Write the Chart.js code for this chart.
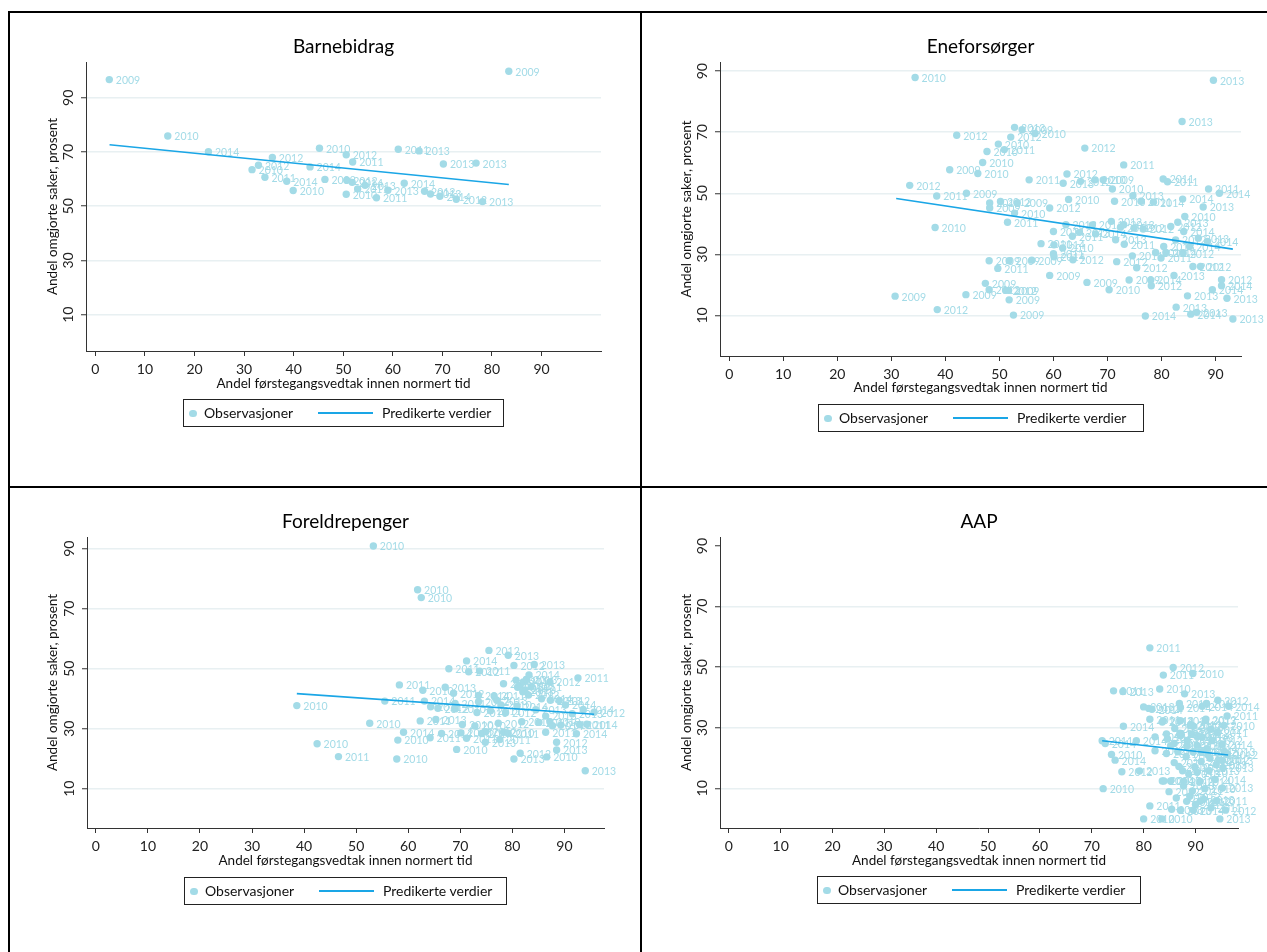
<!DOCTYPE html>
<html>
<head>
<meta charset="utf-8">
<script src="https://cdn.jsdelivr.net/npm/chart.js@4.4.0/dist/chart.umd.min.js"></script>
<style>
body { margin: 0; background: #fff; width: 1267px; height: 952px; position: relative; overflow: hidden; font-family: Lato, sans-serif; }
.ln { position: absolute; background: #000; }
canvas { position: absolute; }
.leg { position: absolute; height: 28px; box-sizing: border-box; border: 1px solid #222; font-size: 14px; color: #111; }
.leg span { position: absolute; }
.leg .dot { left: 5px; top: 9.5px; width: 7.5px; height: 7.5px; border-radius: 50%; background: #a3dbe7; }
.leg .t1 { left: 20px; top: 4px; line-height: 18px; }
.leg .strek { left: 134px; top: 12px; width: 55px; height: 1.6px; background: #1aa6e6; }
.leg .t2 { left: 198px; top: 4px; line-height: 18px; }
</style>
</head>
<body>
<div class="ln" style="left:8px;top:11px;width:1259px;height:2px"></div>
<div class="ln" style="left:8px;top:11px;width:2px;height:941px"></div>
<div class="ln" style="left:640px;top:11px;width:2px;height:941px"></div>
<div class="ln" style="left:8px;top:486px;width:1259px;height:2px"></div>
<canvas id="c1"></canvas>
<canvas id="c2"></canvas>
<canvas id="c3"></canvas>
<canvas id="c4"></canvas>
<script>
const lysbla = '#a3dbe7';
const linjebla = '#1aa6e6';

const xTicks = [0, 10, 20, 30, 40, 50, 60, 70, 80, 90];
const yTicks = [10, 30, 50, 70, 90];

// [andel innen normert tid, andel omgjorte, år]
const barnPunkter = [
  [2.8, 96.7, 2009], [83.4, 99.8, 2009], [14.6, 75.9, 2010], [22.8, 70.1, 2014], [35.7, 68.0, 2012],
  [32.9, 65.1, 2012], [31.6, 63.5, 2010], [34.2, 60.7, 2011], [38.6, 59.2, 2014], [39.9, 55.8, 2010],
  [43.3, 64.5, 2014], [45.2, 71.4, 2010], [46.3, 59.9, 2009], [50.6, 69.0, 2012], [51.9, 66.3, 2011],
  [50.7, 59.6, 2012], [51.8, 58.8, 2014], [54.4, 57.7, 2013], [52.9, 56.4, 2011], [50.6, 54.4, 2010],
  [56.7, 53.1, 2011], [59.0, 55.9, 2013], [61.1, 71.0, 2011], [65.3, 70.4, 2013], [62.3, 58.5, 2014],
  [66.4, 55.5, 2012], [67.6, 54.5, 2013], [69.5, 53.7, 2014], [72.8, 52.6, 2012], [70.2, 65.6, 2013],
  [76.8, 65.9, 2013], [78.1, 51.7, 2013]
];
const barnLinjeX = [2.85, 83.4];
const barnLinjeY = [72.7, 58.0];

const enePunkter = [
  [34.4, 87.9, 2010], [89.6, 87.0, 2013], [83.8, 73.5, 2013], [42.1, 69.0, 2012], [52.8, 71.6, 2013],
  [54.2, 70.8, 2009], [56.6, 69.6, 2010], [52.1, 68.4, 2012], [49.8, 66.1, 2010], [50.9, 64.3, 2011],
  [47.7, 63.7, 2010], [46.9, 60.1, 2010], [40.8, 57.7, 2009], [46.0, 56.5, 2010], [65.8, 64.8, 2012],
  [73.0, 59.3, 2011], [33.4, 52.6, 2012], [55.5, 54.4, 2011], [62.5, 56.3, 2012], [61.8, 53.3, 2013],
  [65.0, 53.9, 2012], [67.7, 54.4, 2010], [69.2, 54.4, 2009], [70.9, 51.4, 2010], [80.3, 54.7, 2011],
  [81.1, 53.8, 2011], [88.7, 51.4, 2011], [90.7, 50.0, 2014], [38.4, 49.1, 2011], [43.9, 50.0, 2009],
  [48.2, 46.8, 2012], [50.2, 47.3, 2012], [53.3, 46.8, 2009], [48.2, 45.2, 2009], [59.3, 45.2, 2012],
  [62.8, 48.0, 2010], [71.3, 47.4, 2010], [74.7, 49.2, 2013], [76.2, 47.4, 2011], [78.5, 47.1, 2014],
  [83.9, 48.1, 2014], [87.7, 45.5, 2013], [84.3, 42.4, 2010], [83.0, 40.5, 2013], [81.7, 39.1, 2012],
  [84.1, 37.5, 2014], [86.8, 35.3, 2013], [88.5, 34.2, 2014], [82.6, 34.7, 2012], [85.2, 32.6, 2014],
  [38.1, 38.8, 2010], [51.5, 40.5, 2011], [52.8, 43.5, 2010], [60.0, 37.5, 2014], [62.3, 39.7, 2012],
  [63.5, 35.9, 2011], [64.8, 37.2, 2013], [67.2, 39.6, 2011], [67.8, 36.7, 2014], [70.7, 40.8, 2012],
  [72.4, 38.9, 2012], [73.0, 39.7, 2013], [71.5, 34.8, 2013], [74.9, 38.6, 2012], [76.6, 38.3, 2012],
  [73.1, 33.3, 2011], [74.6, 29.5, 2011], [78.9, 30.6, 2012], [79.9, 28.8, 2011], [80.8, 30.6, 2014],
  [84.0, 30.4, 2012], [80.4, 32.6, 2013], [57.7, 33.5, 2011], [60.1, 33.1, 2014], [61.7, 32.1, 2010],
  [60.0, 30.2, 2011], [60.1, 29.2, 2014], [63.6, 28.2, 2012], [48.1, 27.9, 2009], [51.8, 27.9, 2009],
  [56.0, 28.1, 2009], [49.7, 25.4, 2011], [71.7, 27.6, 2012], [75.4, 25.6, 2012], [85.8, 26.0, 2012],
  [87.2, 26.0, 2012], [59.3, 23.1, 2009], [82.3, 23.1, 2013], [47.4, 20.5, 2009], [48.1, 18.4, 2012],
  [51.2, 18.2, 2012], [51.7, 18.2, 2009], [51.8, 15.1, 2009], [66.2, 20.8, 2009], [74.0, 21.6, 2009],
  [78.0, 21.6, 2014], [78.1, 19.7, 2012], [70.3, 18.4, 2010], [91.1, 21.7, 2012], [91.1, 19.7, 2014],
  [89.4, 18.4, 2014], [84.8, 16.4, 2013], [92.1, 15.6, 2013], [30.7, 16.3, 2009], [43.8, 16.8, 2009],
  [38.5, 11.9, 2012], [52.6, 10.1, 2009], [77.0, 9.8, 2014], [82.7, 12.7, 2013], [85.4, 10.4, 2014],
  [86.5, 11.0, 2013], [93.2, 8.8, 2013]
];
const eneLinjeX = [30.9, 93.2];
const eneLinjeY = [48.3, 31.7];

const foreldPunkter = [
  [53.3, 90.9, 2010], [61.8, 76.3, 2010], [62.5, 73.7, 2010], [38.6, 37.7, 2010], [42.5, 25.0, 2010],
  [46.6, 20.7, 2011], [57.8, 19.9, 2010], [52.6, 31.8, 2010], [55.5, 39.2, 2011], [58.3, 44.6, 2011],
  [58.0, 26.2, 2010], [94.0, 16.0, 2013], [92.6, 46.9, 2011], [75.5, 56.1, 2012], [79.2, 54.5, 2013],
  [71.2, 52.6, 2014], [80.3, 51.1, 2012], [84.2, 51.4, 2013], [67.8, 50.0, 2011], [71.6, 49.0, 2012],
  [73.7, 49.2, 2011], [62.8, 42.8, 2010], [67.1, 43.8, 2013], [68.7, 41.8, 2012], [63.1, 39.2, 2014],
  [64.3, 37.3, 2011], [65.7, 36.8, 2012], [69.0, 38.4, 2011], [69.0, 36.6, 2010], [73.5, 41.1, 2014],
  [73.5, 39.0, 2012], [73.2, 35.4, 2010], [76.5, 40.9, 2011], [77.0, 39.5, 2013], [78.3, 45.0, 2012],
  [80.7, 46.2, 2013], [81.5, 44.5, 2012], [82.1, 45.6, 2011], [82.7, 46.4, 2013], [83.2, 47.9, 2014],
  [82.4, 42.9, 2010], [83.1, 41.2, 2012], [87.2, 45.6, 2012], [87.3, 39.5, 2013], [90.2, 37.9, 2014],
  [93.6, 36.4, 2014], [95.7, 35.5, 2012], [80.9, 37.5, 2014], [78.7, 35.3, 2012], [77.8, 37.9, 2010],
  [62.3, 32.6, 2011], [65.3, 33.1, 2013], [59.1, 28.8, 2014], [64.2, 27.0, 2011], [66.4, 28.4, 2014],
  [70.1, 28.6, 2010], [70.4, 31.4, 2010], [71.2, 26.8, 2011], [72.8, 30.9, 2010], [74.1, 28.4, 2014],
  [74.9, 29.0, 2012], [74.8, 25.5, 2013], [77.3, 31.8, 2012], [77.6, 26.4, 2011], [78.3, 28.8, 2010],
  [79.2, 28.4, 2011], [81.8, 32.3, 2012], [85.1, 32.1, 2011], [86.4, 34.2, 2013], [87.2, 32.3, 2010],
  [87.7, 31.0, 2014], [89.3, 31.2, 2013], [86.4, 28.8, 2011], [92.3, 28.3, 2014], [92.9, 31.4, 2011],
  [94.3, 31.5, 2014], [88.5, 25.5, 2012], [88.5, 22.9, 2013], [81.5, 21.8, 2012], [80.3, 19.9, 2013],
  [86.6, 20.6, 2010], [69.3, 23.1, 2010], [81.0, 43.8, 2014], [82.0, 42.3, 2013], [83.6, 44.0, 2011],
  [85.6, 40.0, 2014], [89.0, 39.4, 2012], [91.5, 35.0, 2013], [84.5, 36.3, 2013], [75.8, 36.0, 2011]
];
const foreldLinjeX = [38.6, 95.7];
const foreldLinjeY = [41.7, 34.8];

const aapPunkter = [
  [81.2, 56.4, 2011], [85.7, 49.9, 2012], [83.8, 47.4, 2011], [89.5, 47.9, 2010], [74.2, 42.2, 2011],
  [76.0, 42.0, 2013], [83.1, 42.8, 2010], [87.9, 41.2, 2013], [80.0, 36.9, 2013], [81.0, 36.4, 2012],
  [81.6, 36.1, 2014], [86.9, 38.0, 2010], [87.1, 36.7, 2014], [91.3, 37.1, 2014], [92.1, 38.0, 2013],
  [94.3, 39.1, 2012], [96.4, 37.1, 2014], [81.2, 32.8, 2011], [83.8, 32.3, 2012], [87.1, 32.3, 2011],
  [92.0, 32.8, 2012], [96.1, 33.9, 2011], [76.1, 30.5, 2014], [89.1, 31.1, 2013], [89.6, 30.5, 2010],
  [95.5, 30.8, 2010], [72.0, 25.7, 2011], [72.6, 24.8, 2014], [78.6, 25.7, 2014], [82.2, 27.0, 2013],
  [82.2, 22.4, 2012], [84.4, 21.5, 2011], [73.8, 21.2, 2010], [74.5, 19.3, 2014], [75.8, 15.5, 2012],
  [79.2, 15.7, 2013], [72.2, 9.9, 2010], [83.9, 12.4, 2014], [85.2, 12.4, 2010], [84.9, 8.9, 2012],
  [87.7, 12.3, 2010], [90.9, 12.3, 2014], [95.2, 10.1, 2013], [86.3, 6.8, 2011], [88.3, 5.7, 2010],
  [94.1, 5.9, 2011], [81.2, 4.2, 2011], [85.4, 3.1, 2013], [87.1, 2.8, 2013], [95.8, 2.8, 2012],
  [80.0, -0.1, 2010], [83.5, -0.1, 2010], [94.7, -0.1, 2013], [89.6, 2.8, 2014], [90.9, 5.7, 2012],
  [84.4, 28.0, 2012], [87.0, 28.2, 2011], [84.6, 26.3, 2013], [85.9, 24.8, 2012], [87.1, 27.4, 2010],
  [88.4, 25.8, 2014], [89.3, 28.0, 2012], [90.3, 24.2, 2011], [91.3, 26.9, 2013], [92.2, 23.1, 2014],
  [93.2, 25.8, 2012], [94.2, 28.3, 2011], [95.1, 24.5, 2014], [96.1, 21.2, 2012], [86.6, 22.1, 2013],
  [88.2, 20.5, 2010], [89.5, 22.1, 2011], [91.1, 18.9, 2012], [92.4, 21.1, 2010], [94.0, 17.8, 2013],
  [95.3, 16.8, 2013], [85.9, 18.5, 2014], [87.5, 15.8, 2011], [88.7, 14.7, 2013], [90.3, 15.3, 2010],
  [92.6, 15.8, 2013], [94.5, 19.4, 2012], [91.1, 22.0, 2014], [85.2, 24.1, 2011], [88.4, 24.1, 2013],
  [95.6, 22.2, 2013], [95.2, 19.2, 2013], [90.0, 4.7, 2011], [91.6, 6.4, 2013], [87.7, 10.8, 2010],
  [89.4, 9.1, 2011], [83.6, 12.4, 2010], [83.6, 31.9, 2014], [91.9, 32.4, 2013], [89.0, 30.7, 2012],
  [90.5, 27.2, 2014], [93.0, 29.5, 2012], [86.0, 29.8, 2013], [92.8, 19.9, 2011], [89.9, 17.0, 2012],
  [86.8, 17.2, 2010], [93.8, 12.9, 2014], [91.8, 9.9, 2010], [88.9, 7.4, 2012], [93.0, 3.6, 2011]
];
const aapLinjeX = [72.0, 96.3];
const aapLinjeY = [25.7, 21.0];

const xTittel = 'Andel førstegangsvedtak innen normert tid';
const yTittel = 'Andel omgjorte saker, prosent';

Chart.defaults.font.family = 'Lato';

// årstall ved hvert punkt
const aarTekst = {
  id: 'aarTekst',
  afterDatasetDraw(chart, args) {
    if (args.index !== 0) return;
    const ctx = chart.ctx;
    const rader = chart.data.datasets[0].rader;
    ctx.save();
    ctx.font = '10.5px Lato';
    ctx.fillStyle = lysbla;
    ctx.textBaseline = 'middle';
    args.meta.data.forEach((p, i) => {
      ctx.fillText(String(rader[i][2]), p.x + 6.5, p.y + 1);
    });
    ctx.restore();
  }
};

function tegn(id, p) {
  const cv = document.getElementById(id);
  cv.style.left = p.pos[0] + 'px';
  cv.style.top = p.pos[1] + 'px';
  cv.width = p.size[0];
  cv.height = p.size[1];
  const L = p.area[0] - p.pos[0], T = p.area[1] - p.pos[1];
  const R = p.area[2] - p.pos[0], B = p.area[3] - p.pos[1];
  const tittelFont = {family: 'Lato', size: 13.5, lineHeight: '16px'};
  const tickFont = {family: 'Lato', size: 14};

  new Chart(cv, {
    type: 'scatter',
    data: {
      datasets: [{
        data: p.rader.map(r => ({x: r[0], y: r[1]})),
        rader: p.rader,
        backgroundColor: lysbla,
        borderWidth: 0,
        pointRadius: 3.7,
        order: 2
      }, {
        type: 'line',
        data: p.lx.map((v, i) => ({x: v, y: p.ly[i]})),
        borderColor: linjebla,
        borderWidth: 1.6,
        pointRadius: 0,
        fill: false,
        order: 1
      }]
    },
    options: {
      responsive: false,
      animation: false,
      devicePixelRatio: 1,
      layout: {padding: {left: 0, top: T - 26.5, right: p.size[0] - R, bottom: p.size[1] - B - 45}},
      plugins: {
        legend: {display: false},
        tooltip: {enabled: false},
        title: {
          display: true, text: p.tittel, fullSize: false, color: '#000',
          font: {family: 'Lato', size: 19, lineHeight: '23px', weight: 'normal'},
          padding: {top: 0, bottom: 3.5}
        }
      },
      scales: {
        x: {
          type: 'linear', min: p.xr[0], max: p.xr[1],
          afterBuildTicks: s => { s.ticks = xTicks.map(v => ({value: v})); },
          afterFit: s => { s.height = 45; },
          grid: {drawOnChartArea: false, drawTicks: true, tickLength: 5, tickColor: '#333', tickWidth: 1},
          border: {color: '#333', width: 1},
          ticks: {padding: 5, color: '#222', font: tickFont, maxRotation: 0, autoSkip: false},
          title: {display: true, text: xTittel, color: '#111', font: tittelFont,
            padding: {top: 0, bottom: B + 37 - (p.xt - p.pos[1])}}
        },
        y: {
          type: 'linear', min: p.yr[0], max: p.yr[1],
          afterBuildTicks: s => { s.ticks = yTicks.map(v => ({value: v})); },
          afterFit: s => { s.width = L; },
          grid: {
            color: c => (p.uten90 && c.tick && c.tick.value === 90) ? 'rgba(0,0,0,0)' : '#e8f0f2',
            lineWidth: 1.5, tickLength: 5, tickColor: '#333', tickWidth: 1
          },
          border: {color: '#333', width: 1},
          ticks: {padding: 4, crossAlign: 'center', minRotation: 90, maxRotation: 90, color: '#222', font: tickFont},
          title: {display: true, text: yTittel, color: '#111', font: tittelFont,
            padding: {top: p.yt - p.pos[0] - 8, bottom: 0}}
        }
      }
    },
    plugins: [aarTekst]
  });

  const d = document.createElement('div');
  d.className = 'leg';
  d.style.left = p.leg[0] + 'px';
  d.style.top = p.leg[1] + 'px';
  d.style.width = p.leg[2] + 'px';
  d.innerHTML = '<span class="dot"></span><span class="t1">Observasjoner</span>' +
    '<span class="strek"></span><span class="t2">Predikerte verdier</span>';
  document.body.appendChild(d);
}

tegn('c1', {tittel: 'Barnebidrag', rader: barnPunkter, lx: barnLinjeX, ly: barnLinjeY,
  pos: [10, 14], size: [630, 472], area: [86, 62, 601, 351], xr: [-1.9, 102], yr: [-3.4, 103.2],
  xt: 383.3, yt: 52.5, leg: [183, 399, 321]});
tegn('c2', {tittel: 'Eneforsørger', rader: enePunkter, lx: eneLinjeX, ly: eneLinjeY,
  pos: [643, 14], size: [624, 472], area: [720, 62, 1241, 356], xr: [-1.7, 94.7], yr: [-3.3, 93],
  xt: 387.3, yt: 686.5, leg: [818, 404, 326]});
tegn('c3', {tittel: 'Foreldrepenger', rader: foreldPunkter, lx: foreldLinjeX, ly: foreldLinjeY,
  pos: [10, 489], size: [630, 463], area: [87, 537, 604, 828], xr: [-1.7, 97.6], yr: [-3.1, 93.9],
  xt: 860.3, yt: 52.5, leg: [184, 877, 323]});
tegn('c4', {tittel: 'AAP', rader: aapPunkter, lx: aapLinjeX, ly: aapLinjeY, uten90: true,
  pos: [643, 489], size: [624, 463], area: [720, 537, 1238, 828], xr: [-1.7, 98.2], yr: [-3.1, 93],
  xt: 860.3, yt: 686.5, leg: [817, 876, 324]});
</script>
</body>
</html>
